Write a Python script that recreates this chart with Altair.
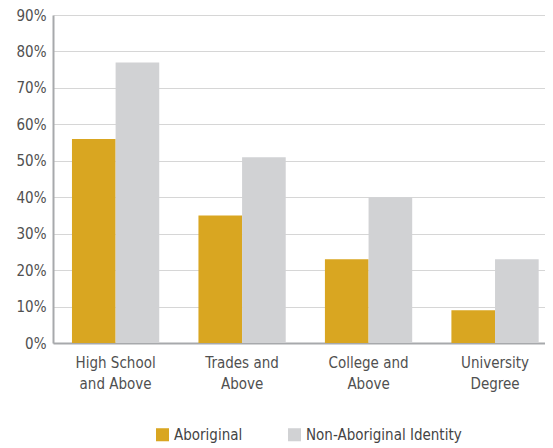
import json
import altair as alt
import pandas as pd

categories = ["High School and Above", "Trades and Above", "College and Above", "University Degree"]
category_lines = [["High School", "and Above"], ["Trades and", "Above"], ["College and", "Above"], ["University", "Degree"]]
series = ["Aboriginal", "Non-Aboriginal Identity"]
aboriginal = [56, 35, 23, 9]
non_aboriginal = [77, 51, 40, 23]
colors = ["#D9A621", "#D1D2D4"]

rows = []
for c, a, n in zip(categories, aboriginal, non_aboriginal):
    rows.append({"category": c, "group": series[0], "value": a / 100})
    rows.append({"category": c, "group": series[1], "value": n / 100})
df = pd.DataFrame(rows)

label_map = json.dumps(dict(zip(categories, category_lines)))
FONT = "DejaVu Sans Condensed"

chart = alt.Chart(df).mark_bar().encode(
    x=alt.X("category:N", sort=categories, title=None,
            scale=alt.Scale(paddingInner=0.31, paddingOuter=0.1, align=0.75),
            axis=alt.Axis(labelAngle=0, labelExpr=f"{label_map}[datum.value]",
                          labelFontSize=15, labelColor="#505050", labelFont=FONT,
                          ticks=False, domainColor="#A7A9AC", domainWidth=2,
                          labelPadding=12, labelLineHeight=21)),
    xOffset=alt.XOffset("group:N", sort=series),
    y=alt.Y("value:Q", title=None,
            scale=alt.Scale(domain=[0, 0.9]),
            axis=alt.Axis(format=".0%", values=[i / 10 for i in range(10)],
                          labelFontSize=15, labelColor="#505050", labelFont=FONT,
                          ticks=False, domainColor="#A7A9AC", domainWidth=2,
                          gridColor="#D6D6D6", labelPadding=7)),
    color=alt.Color("group:N", sort=series, title=None,
                    scale=alt.Scale(domain=series, range=colors),
                    legend=alt.Legend(orient="none", direction="horizontal",
                                      legendX=102, legendY=412,
                                      symbolType="square", symbolSize=170,
                                      symbolStrokeWidth=0,
                                      labelFontSize=15, labelFont=FONT,
                                      labelColor="#444444", columnPadding=44)),
).properties(
    width=492, height=328, padding={"left": 8, "top": 0, "right": 0, "bottom": 0}
).configure_view(stroke=None)

chart.save("out.html", embed_options={"renderer": "svg", "actions": False})
